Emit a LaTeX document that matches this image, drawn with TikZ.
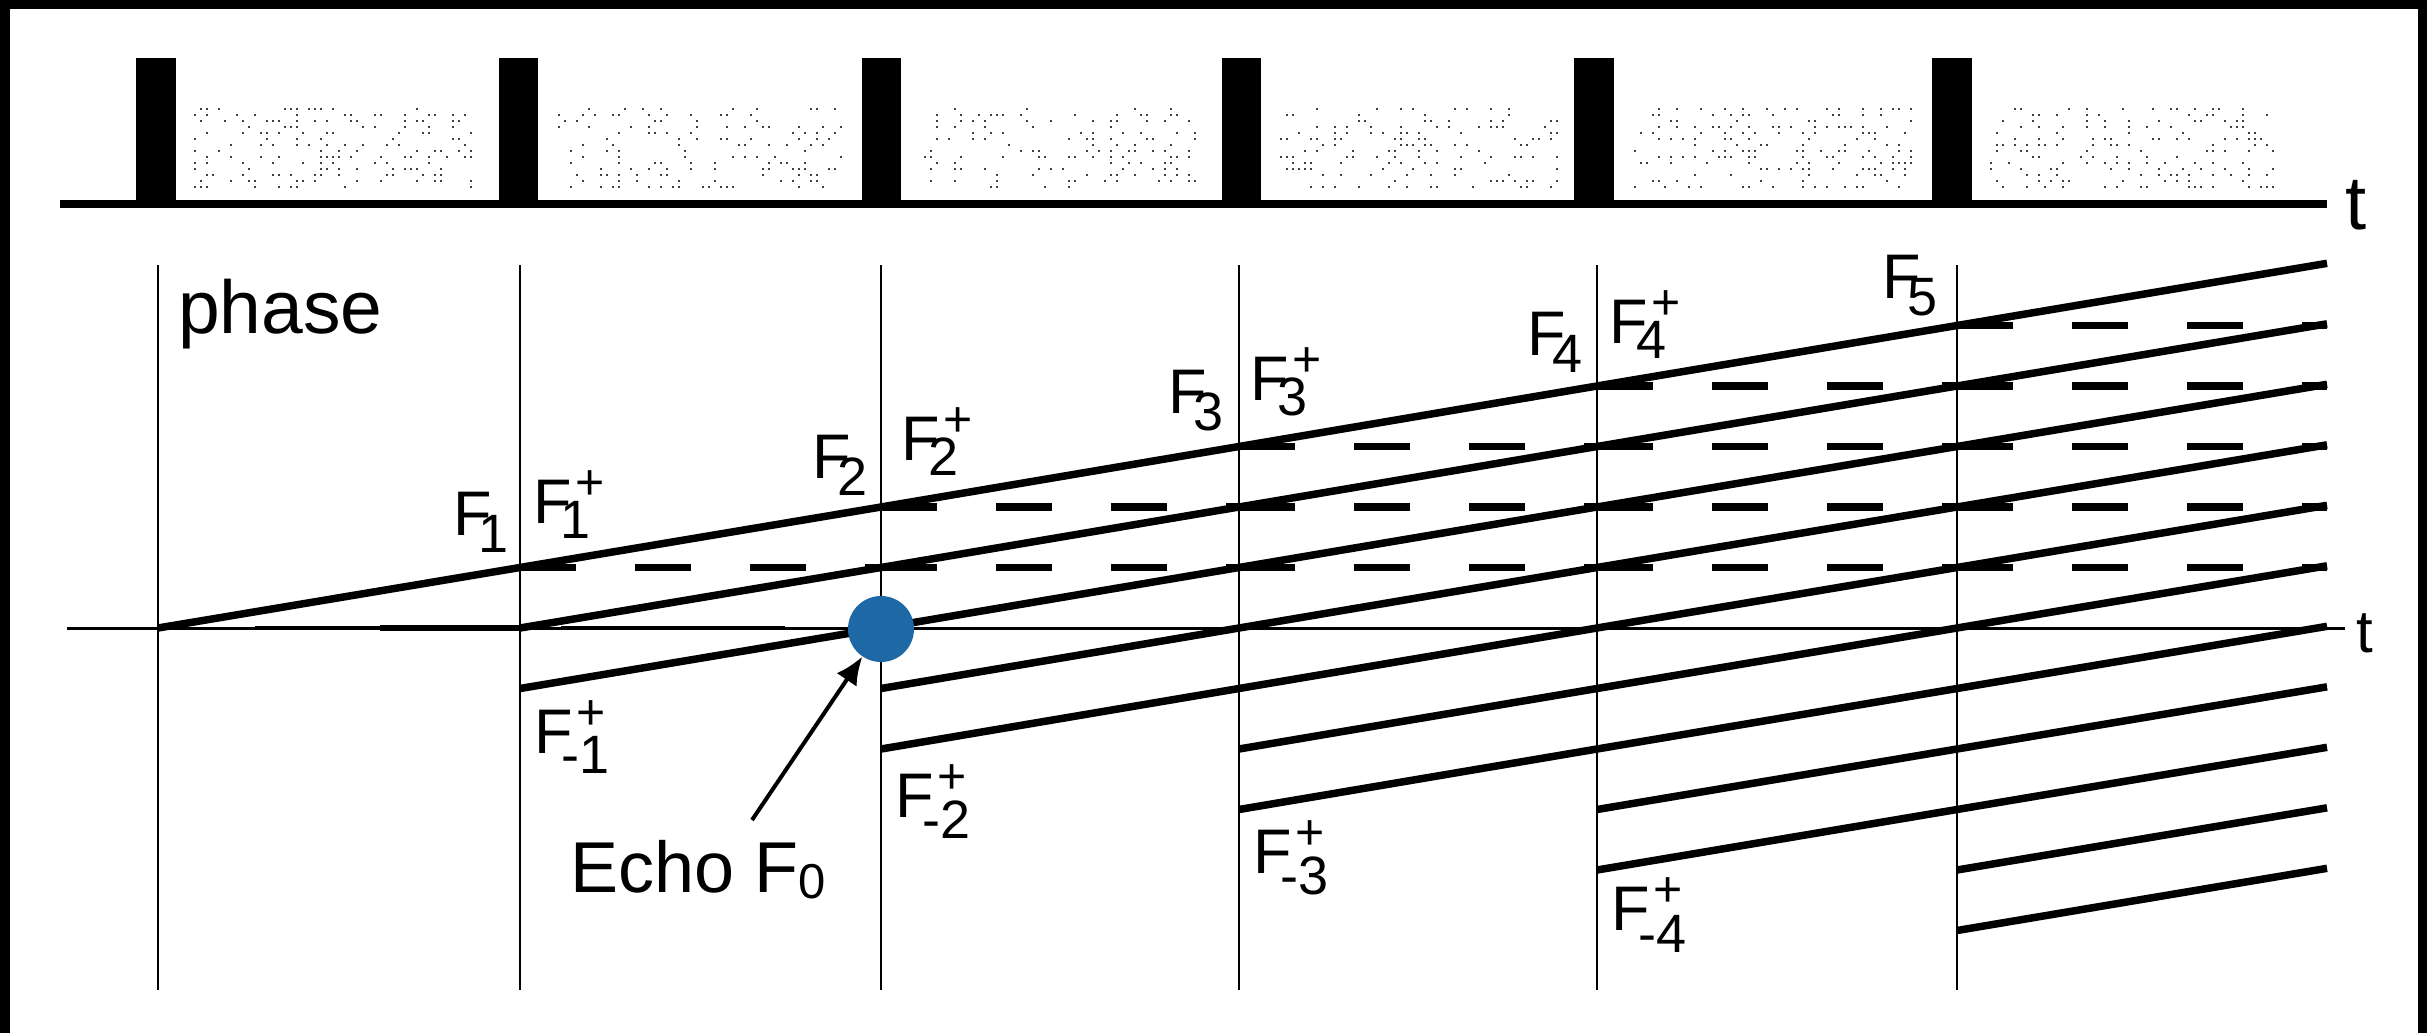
\documentclass[tikz,border=0pt]{standalone}
\usepackage{fontspec}
\setmainfont{Liberation Sans}
\usetikzlibrary{arrows.meta}
\definecolor{dotblue}{RGB}{31,104,166}
\newcommand{\subf}{\fontsize{54pt}{60pt}\selectfont}
\newcommand{\supf}{\fontsize{50pt}{56pt}\selectfont}
\newcommand{\Fmain}{\fontsize{63pt}{70pt}\selectfont}
\newcommand{\Fs}[1]{{\Fmain F\kern-13pt\raisebox{-17pt}{\subf #1}}}
\newcommand{\Fsp}[2]{{\Fmain F\kern-11pt\rlap{\kern15pt\raisebox{24pt}{\supf +}}\raisebox{-#2pt}{\subf #1}}}
\begin{document}
\begin{tikzpicture}[x=1pt,y=-1pt,
  lab/.style={anchor=base west,inner sep=0pt,outer sep=0pt},
  pulse/.style={fill=black},
  vline/.style={line width=2pt},
  state/.style={line width=7.5pt},
  zstate/.style={line width=7.5pt,dash pattern=on 56pt off 59pt},
  axisline/.style={line width=3pt}]
\useasboundingbox (0,0) rectangle (2427,1033);
\fill[black] (0,0) rectangle (2427,1033);
\fill[white] (10,9) rectangle (2418,1040);

% ---------- pulse sequence ----------
\draw[line width=8pt] (60,204) -- (2327,204);
\foreach \a/\b in {136/176,499/538,862/901,1222/1261,1574/1614,1932/1972}
  \fill[pulse] (\a,58) rectangle (\b,206);
\pgfmathsetseed{7}
\foreach \xa/\xb in {194/473,558/843,924/1205,1280/1558,1634/1911,1990/2272}{
  \pgfmathtruncatemacro\N{(\xb-\xa)/6}
  \foreach \yy in {108,114,...,190}{
    \foreach \i in {0,...,\N}{
      \pgfmathtruncatemacro\flag{rnd<0.22}
      \ifnum\flag=1 \fill[black!75] (\xa+6*\i,\yy) rectangle ++(2.4,2.4);\fi
    }
  }
}
\node[lab,font=\fontsize{76pt}{80pt}\selectfont] (t1) at (2345,229) {t};

% ---------- phase diagram ----------
\node[lab,font=\fontsize{75pt}{80pt}\selectfont] (phase) at (178,333) {phase};
\foreach \x in {158,520,881,1239,1597,1957}
  \draw[vline] (\x,265) -- (\x,990);
\draw[axisline] (67,628) -- (2345,628);
\draw[line width=4.5pt] (255,628) -- (380,628);
\draw[line width=6pt] (380,628) -- (523,628);
\draw[line width=4.5pt] (561,628) -- (785,628);
\node[lab,font=\fontsize{60pt}{64pt}\selectfont] (t2) at (2356,652) {t};

% dephasing (solid) and stored (dashed) states
\def\yz{628}
\def\dd{60.5}
\foreach \k/\xs/\xe in {0/158/520,1/520/881,2/881/1239,3/1239/1597,4/1597/1957,5/1957/2327}{
  \ifnum\k=5 \pgfmathsetmacro\rise{\dd*((\xe-\xs)/360)}\else \pgfmathsetmacro\rise{\dd}\fi
  \foreach \n in {-\k,...,\k}{
    \pgfmathsetmacro\ya{\yz-\n*\dd}
    \pgfmathsetmacro\yb{\ya-\rise}
    \draw[state] (\xs,\ya) -- (\xe,\yb);
  }
  \ifnum\k>0
    \foreach \n in {1,...,\k}{
      \pgfmathsetmacro\ya{\yz-\n*\dd}
      \draw[zstate] (\xs,\ya) -- (\xe,\ya);
    }
  \fi
}

% labels
\node[lab] (F1)  at (453,535) {\Fs{1}};
\node[lab] (F1p) at (533,523) {\Fsp{1}{15}};
\node[lab] (F2)  at (812,478) {\Fs{2}};
\node[lab] (F2p) at (901,460) {\Fsp{2}{15}};
\node[lab] (F3)  at (1168,413) {\Fs{3}};
\node[lab] (F3p) at (1250,400) {\Fsp{3}{15}};
\node[lab] (F4)  at (1527,355) {\Fs{4}};
\node[lab] (F4p) at (1609,343) {\Fsp{4}{15}};
\node[lab] (F5)  at (1882,298) {\Fs{5}};
\node[lab] (Fm1) at (534,753) {\Fsp{-1}{20}};
\node[lab] (Fm2) at (895,817) {\Fsp{-2}{21}};
\node[lab] (Fm3) at (1253,873) {\Fsp{-3}{21}};
\node[lab] (Fm4) at (1611,930) {\Fsp{-4}{22}};

% echo
\node[circle,fill=dotblue,minimum size=66pt,inner sep=0pt] (echo) at (881,629) {};
\node[lab,font=\fontsize{72pt}{76pt}\selectfont] (echolab) at (570,892)
  {Echo F\raisebox{-6pt}{\fontsize{49pt}{52pt}\selectfont 0}};
\coordinate (astart) at (752,820);
\draw[line width=4pt,-{Latex[length=28pt,width=24pt]}] (astart) -- (echo);
\end{tikzpicture}
\end{document}
